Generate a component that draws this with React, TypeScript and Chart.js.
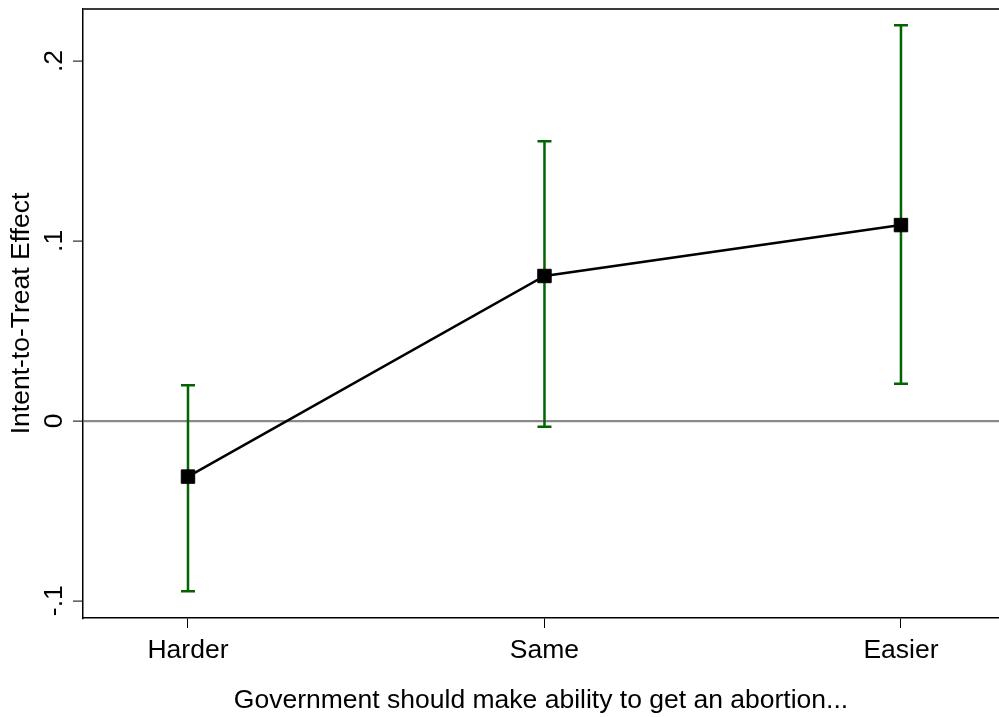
import React, { useEffect, useRef } from 'react';
import { Chart, registerables } from 'chart.js';

Chart.register(...registerables);

const categories = ['Harder', 'Same', 'Easier'];
const effects = [-0.031, 0.0805, 0.1088];
const ciLower = [-0.0948, -0.0033, 0.0206];
const ciUpper = [0.0197, 0.1554, 0.2199];
const yTickValues = [-0.1, 0, 0.1, 0.2];
const yTickLabels = ['-.1', '0', '.1', '.2'];
const xTitle = 'Government should make ability to get an abortion...';
const yTitle = 'Intent-to-Treat Effect';

const FONT = "'Liberation Sans', Arial, Helvetica, sans-serif";
const FS = 26.5;

const errorBarPlugin = {
  id: 'errorBars',
  beforeDatasetsDraw(chart: any) {
    const { ctx, scales } = chart;
    const xs = scales.x;
    const ys = scales.y;
    ctx.save();
    ctx.strokeStyle = '#006400';
    ctx.lineWidth = 2.5;
    const cap = 7;
    categories.forEach((_, i) => {
      const px = xs.getPixelForValue(i);
      const yl = ys.getPixelForValue(ciLower[i]);
      const yh = ys.getPixelForValue(ciUpper[i]);
      ctx.beginPath();
      ctx.moveTo(px, yl);
      ctx.lineTo(px, yh);
      ctx.moveTo(px - cap, yl);
      ctx.lineTo(px + cap, yl);
      ctx.moveTo(px - cap, yh);
      ctx.lineTo(px + cap, yh);
      ctx.stroke();
    });
    ctx.restore();
  },
  afterDraw(chart: any) {
    const { ctx, chartArea } = chart;
    ctx.save();
    ctx.strokeStyle = '#3a3a3a';
    ctx.lineWidth = 2;
    ctx.beginPath();
    ctx.moveTo(chartArea.left, chartArea.top);
    ctx.lineTo(chartArea.right, chartArea.top);
    ctx.stroke();
    ctx.restore();
  },
};

export default function App() {
  const ref = useRef<HTMLCanvasElement>(null);
  useEffect(() => {
    if (!ref.current) return;
    const chart = new Chart(ref.current, {
      type: 'line',
      data: {
        datasets: [
          {
            data: categories.map((_, i) => ({ x: i, y: effects[i] })),
            borderColor: '#000',
            borderWidth: 2.5,
            backgroundColor: '#000',
            pointStyle: 'rect',
            pointRadius: 9.5,
            pointBorderWidth: 1,
            pointBackgroundColor: '#000',
            pointBorderColor: '#000',
            tension: 0,
          },
        ],
      },
      options: {
        responsive: false,
        animation: false,
        devicePixelRatio: 1,
        layout: { autoPadding: false, padding: { top: 9, right: 0, left: 0, bottom: 0 } },
        plugins: { legend: { display: false }, tooltip: { enabled: false } },
        scales: {
          x: {
            type: 'linear',
            min: -0.2945,
            max: 2.275,
            afterBuildTicks: (s: any) => {
              s.ticks = categories.map((_, i) => ({ value: i }));
            },
            afterFit: (s: any) => {
              s.height = 99;
              s.paddingLeft = 0;
              s.paddingRight = 0;
            },
            ticks: {
              callback: (_v: any, i: number) => categories[i],
              color: '#000',
              font: { family: FONT, size: FS },
              padding: 7,
              maxRotation: 0,
              minRotation: 0,
            },
            grid: {
              drawOnChartArea: false,
              drawTicks: true,
              tickLength: 10,
              tickColor: '#000',
              tickWidth: 1,
            },
            border: { display: true, color: '#000', width: 1.5 },
            title: {
              display: true,
              text: xTitle,
              color: '#000',
              font: { family: FONT, size: FS },
              padding: { top: 0, bottom: 0 },
            },
          },
          y: {
            type: 'linear',
            min: -0.1096,
            max: 0.2289,
            afterBuildTicks: (s: any) => {
              s.ticks = yTickValues.map((v) => ({ value: v }));
            },
            afterFit: (s: any) => {
              s.width = 83;
              s.paddingTop = 0;
              s.paddingBottom = 0;
            },
            ticks: {
              callback: (_v: any, i: number) => yTickLabels[i],
              color: '#000',
              font: { family: FONT, size: FS },
              padding: 3,
              minRotation: 90,
              maxRotation: 90,
              crossAlign: 'center',
            },
            grid: {
              drawOnChartArea: true,
              color: (c: any) => (c.tick && Math.abs(c.tick.value) < 1e-9 ? '#8a8a8a' : 'rgba(0,0,0,0)'),
              lineWidth: 2.2,
              drawTicks: true,
              tickLength: 10,
              tickColor: '#000',
              tickWidth: 1,
            },
            border: { display: true, color: '#000', width: 1.5 },
            title: {
              display: true,
              text: yTitle,
              color: '#000',
              font: { family: FONT, size: FS },
              padding: { top: 6, bottom: 0 },
            },
          },
        },
      },
      plugins: [errorBarPlugin],
    } as any);
    return () => chart.destroy();
  }, []);
  return (
    <div style={{ position: 'absolute', left: 0, top: 0, width: 999, height: 717, background: '#fff' }}>
      <canvas ref={ref} width={999} height={717} style={{ display: 'block' }} />
    </div>
  );
}
